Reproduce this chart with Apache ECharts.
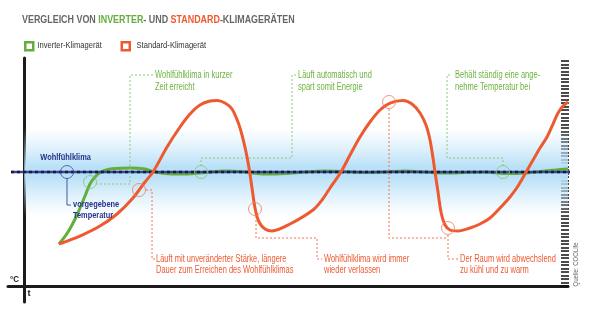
<!DOCTYPE html>
<html><head><meta charset="utf-8">
<script src="https://cdn.jsdelivr.net/npm/echarts@6/dist/echarts.min.js"></script>
<style>html,body{margin:0;padding:0;background:#fff}#c{width:593px;height:322px}</style>
</head><body><div id="c"></div>
<script>
const FONT = "'Liberation Sans', Arial, sans-serif";
const GREEN = '#64ae3c', RED = '#ee5a30', NAVY = '#27318a';

const seriesNames = ['Inverter-Klimagerät', 'Standard-Klimagerät'];
const titleParts = [['VERGLEICH VON ', 'g'], ['INVERTER', 'gr'], ['- UND ', 'g'], ['STANDARD', 'r'], ['-KLIMAGERÄTEN', 'g']];
const comfortLevel = 50;
const comfortSpan = [-2.45, 104.6];
const bandRange = [30.7, 69.3];

const inverterCurve = [[6.38,18.43],[8.04,23.69],[9.69,31.15],[11.16,39.48],[12.08,44.74],[13.0,47.81],[13.92,49.78],[15.03,50.88],[16.68,51.54],[19.44,51.76],[22.2,51.32],[23.67,50.22],[25.88,49.34],[29.56,49.12],[33.24,49.78],[36.91,50.44],[40.59,50],[44.27,49.12],[47.95,49.34],[51.63,50],[55.31,50.44],[58.99,50.22],[62.66,49.78],[66.34,50],[70.02,50.44],[73.7,50],[77.38,49.56],[81.06,49.78],[84.74,50],[88.41,49.34],[92.09,49.56],[95.77,50.44],[98.53,51.1],[100,51.32]];

const standardCurve = [[6.38,18.43],[10.24,21.94],[13.92,26.32],[17.05,31.59],[19.99,38.6],[22.2,45.62],[23.67,50],[26.25,60.97],[28.64,69.74],[30.48,75.44],[32.31,79.39],[34.15,81.14],[35.44,81.36],[36.91,80.26],[38.2,77.63],[39.3,71.93],[40.04,66.23],[40.78,58.77],[41.33,51.76],[41.88,42.99],[42.43,34.22],[43.17,28.08],[44.27,25.01],[45.56,24.13],[48.87,27.2],[53.1,33.34],[54.76,37.73],[56.23,42.99],[58.25,50],[59.91,57.46],[61.74,65.35],[63.58,71.93],[65.42,77.19],[67.26,80.26],[69.65,81.36],[71.31,79.82],[72.78,75.88],[73.88,70.61],[74.62,64.04],[75.17,56.14],[75.54,50],[76.09,41.23],[76.64,32.46],[77.38,26.76],[78.3,24.57],[79.77,24.13],[81.98,25.45],[83.82,27.2],[85.66,29.83],[87.5,34.22],[89.33,39.04],[90.81,43.87],[92.09,49.12],[93.57,55.27],[94.85,60.53],[96.14,65.35],[97.24,71.05],[98.16,75.88],[99.08,78.95],[100,80.7]];

const markersNavy = [[7.85,50]];
const markersGreen = [[12.08,45.62],[32.5,50],[88.05,50]];
const markersRed = [[21.1,42.11],[42.43,33.78],[67.08,80.7],[77.93,25.45]];

const connectorsNavy = [[[7.85,47.37],[7.85,35.53],[8.59,35.53]]];
const connectorsGreen = [
  [[13.19,44.74],[19.44,44.74],[19.44,92.54],[23.67,92.54]],
  [[32.5,52.64],[32.5,56.14],[49.24,56.14],[49.24,92.54],[49.97,92.54]],
  [[88.05,52.64],[88.05,56.14],[77.75,56.14],[77.75,92.54],[78.67,92.54]]
];
const connectorsRed = [
  [[22.38,42.11],[23.49,42.11],[23.49,11.85],[24.04,11.85]],
  [[42.62,30.71],[42.62,21.06],[53.84,21.06],[53.84,11.85],[54.76,11.85]],
  [[67.08,77.63],[67.08,21.06],[77.93,21.06]],
  [[77.93,22.38],[77.93,11.85],[79.77,11.85]]
];

const labelsGreen = [
  {text: 'Wohlfühlklima in kurzer\nZeit erreicht', at: [24.04, 89.69]},
  {text: 'Läuft automatisch und\nspart somit Energie', at: [50.34, 89.69]},
  {text: 'Behält ständig eine ange-\nnehme Temperatur bei', at: [79.22, 89.69]}
];
const labelsRed = [
  {text: 'Läuft mit unveränderter Stärke, längere\nDauer zum Erreichen des Wohlfühlklimas', at: [24.22, 9.36]},
  {text: 'Wohlfühlklima wird immer\nwieder verlassen', at: [55.12, 9.36]},
  {text: 'Der Raum wird abwechslend\nzu kühl und zu warm', at: [80.14, 9.36]}
];
const labelsNavy = [
  {text: 'Wohlfühlklima', at: [2.95, 56.3]},
  {text: 'vorgegebene\nTemperatur', at: [8.96, 33.4]}
];

const chart = echarts.init(document.getElementById('c'), null, {renderer: 'canvas'});

function connectorSeries(list, color, type) {
  return list.map(pts => ({
    type: 'line', data: pts, symbol: 'none', silent: true, z: 4,
    lineStyle: {color: color, width: 1, type: type}, animation: false
  }));
}
function markerSeries(list, color) {
  return {
    type: 'scatter', data: list, symbol: 'circle', symbolSize: 13, silent: true, z: 7, animation: false,
    itemStyle: {color: 'rgba(0,0,0,0)', borderColor: color, borderWidth: 1}
  };
}

chart.setOption({
  animation: false,
  legend: {
    left: 24, top: 41, padding: 0, itemWidth: 8, itemHeight: 8, itemGap: 86,
    formatter: () => '',
    textStyle: {fontSize: 1},
    data: [
      {name: seriesNames[0], icon: 'rect', itemStyle: {color: '#fff', borderColor: GREEN, borderWidth: 2.5}},
      {name: seriesNames[1], icon: 'rect', itemStyle: {color: '#fff', borderColor: RED, borderWidth: 2.5}}
    ]
  },
  grid: [
    {left: 8, right: 25, top: 58, bottom: 20},
    {left: 500, right: 24, top: 61, bottom: 36}
  ],
  xAxis: [
    {type: 'value', min: -3, max: 100, gridIndex: 0,
      axisLine: {show: true, onZero: true, lineStyle: {color: '#1c1c1c', width: 3}},
      axisTick: {show: false}, axisLabel: {show: false}, splitLine: {show: false}},
    {type: 'value', gridIndex: 1, show: false, min: 0, max: 1}
  ],
  yAxis: [
    {type: 'value', min: -7, max: 100, gridIndex: 0,
      axisLine: {show: true, onZero: true, lineStyle: {color: '#1c1c1c', width: 3}},
      axisTick: {show: false}, axisLabel: {show: false}, splitLine: {show: false}},
    {type: 'value', gridIndex: 1, position: 'right', min: 0, max: 64, interval: 1,
      axisLine: {show: false, onZero: false}, axisLabel: {show: false}, splitLine: {show: false},
      axisTick: {show: true, inside: true, length: 8, lineStyle: {color: '#111', width: 1.5}}}
  ],
  series: [
    {
      type: 'line', name: '_band', data: [], silent: true, z: 0,
      markArea: {
        silent: true,
        itemStyle: {color: new echarts.graphic.LinearGradient(0, 0, 0, 1, [
          {offset: 0, color: 'rgba(200,232,250,0)'},
          {offset: 0.45, color: 'rgba(184,224,247,1)'},
          {offset: 0.55, color: 'rgba(184,224,247,1)'},
          {offset: 1, color: 'rgba(200,232,250,0)'}
        ])},
        data: [[{xAxis: 0, yAxis: bandRange[1]}, {xAxis: 100, yAxis: bandRange[0]}]]
      }
    },
    {
      type: 'line', name: seriesNames[0], data: inverterCurve, symbol: 'none', z: 2,
      smooth: 0.3,
      lineStyle: {color: GREEN, width: 3}, itemStyle: {color: GREEN}
    },
    {
      type: 'line', data: [[comfortSpan[0], comfortLevel], [comfortSpan[1], comfortLevel]], symbol: 'none',
      clip: false, silent: true, z: 3, lineStyle: {color: '#3545a8', width: 2.5}
    },
    {
      type: 'line', data: [[comfortSpan[0], comfortLevel], [comfortSpan[1], comfortLevel]], symbol: 'none',
      clip: false, silent: true, z: 3, lineStyle: {color: '#1e1e2a', width: 2.5, type: [3, 3]}
    },
    {
      type: 'line', name: seriesNames[1], data: standardCurve, symbol: 'none', z: 5,
      smooth: 0.3,
      lineStyle: {color: RED, width: 3}, itemStyle: {color: RED}
    },
    ...connectorSeries(connectorsNavy, '#4a579e', 'solid'),
    ...connectorSeries(connectorsGreen, '#8fca74', [2, 2]),
    ...connectorSeries(connectorsRed, '#f07252', [2, 2]),
    markerSeries(markersNavy, '#3c4a98'),
    markerSeries(markersGreen, '#85c46c'),
    markerSeries(markersRed, '#f07a60'),
  ]
});

// Text elements (condensed by horizontal scaling), anchored through the chart's own scales
const texts = [];
function addLabels(list, color, weight, size, lh, sx) {
  list.forEach(l => {
    const p = chart.convertToPixel({gridIndex: 0}, l.at);
    texts.push({type: 'text', x: p[0], y: p[1], scaleX: sx, silent: true, z: 100,
      style: {text: l.text, font: weight + ' ' + size + 'px ' + FONT, fill: color,
        align: 'left', verticalAlign: 'middle', lineHeight: lh}});
  });
}
addLabels(labelsGreen, '#6cb33e', 'normal', 10, 11.6, 0.75);
addLabels(labelsRed, '#ee5a32', 'normal', 10, 11, 0.75);
addLabels(labelsNavy, NAVY, 'bold', 9.5, 10.5, 0.78);

const titleRich = {
  g: {fill: '#666', font: 'bold 11.5px ' + FONT},
  gr: {fill: GREEN, font: 'bold 11.5px ' + FONT},
  r: {fill: RED, font: 'bold 11.5px ' + FONT}
};
texts.push({type: 'text', x: 22, y: 19.7, scaleX: 0.775, silent: true,
  style: {text: titleParts.map(t => '{' + t[1] + '|' + t[0] + '}').join(''), rich: titleRich,
    font: 'bold 11.5px ' + FONT, align: 'left', verticalAlign: 'middle'}});
texts.push({type: 'text', x: 37.3, y: 45.3, scaleX: 0.8, silent: true,
  style: {text: seriesNames[0], font: '9.5px ' + FONT, fill: '#333', align: 'left', verticalAlign: 'middle'}});
texts.push({type: 'text', x: 136.5, y: 45.3, scaleX: 0.8, silent: true,
  style: {text: seriesNames[1], font: '9.5px ' + FONT, fill: '#333', align: 'left', verticalAlign: 'middle'}});
texts.push({type: 'text', x: 10, y: 279, scaleX: 0.85, silent: true,
  style: {text: '°C', font: 'bold 9.5px ' + FONT, fill: '#222', align: 'left', verticalAlign: 'middle'}});
texts.push({type: 'text', x: 27.5, y: 293.5, silent: true,
  style: {text: 't', font: 'bold 9.5px ' + FONT, fill: '#222', align: 'left', verticalAlign: 'middle'}});
texts.push({type: 'text', x: 576, y: 264.5, rotation: Math.PI / 2, scaleX: 0.8, silent: true,
  style: {text: 'Quelle: COOLife', font: '7.5px ' + FONT, fill: '#666', align: 'center', verticalAlign: 'middle'}});

chart.setOption({graphic: texts});
</script></body></html>
